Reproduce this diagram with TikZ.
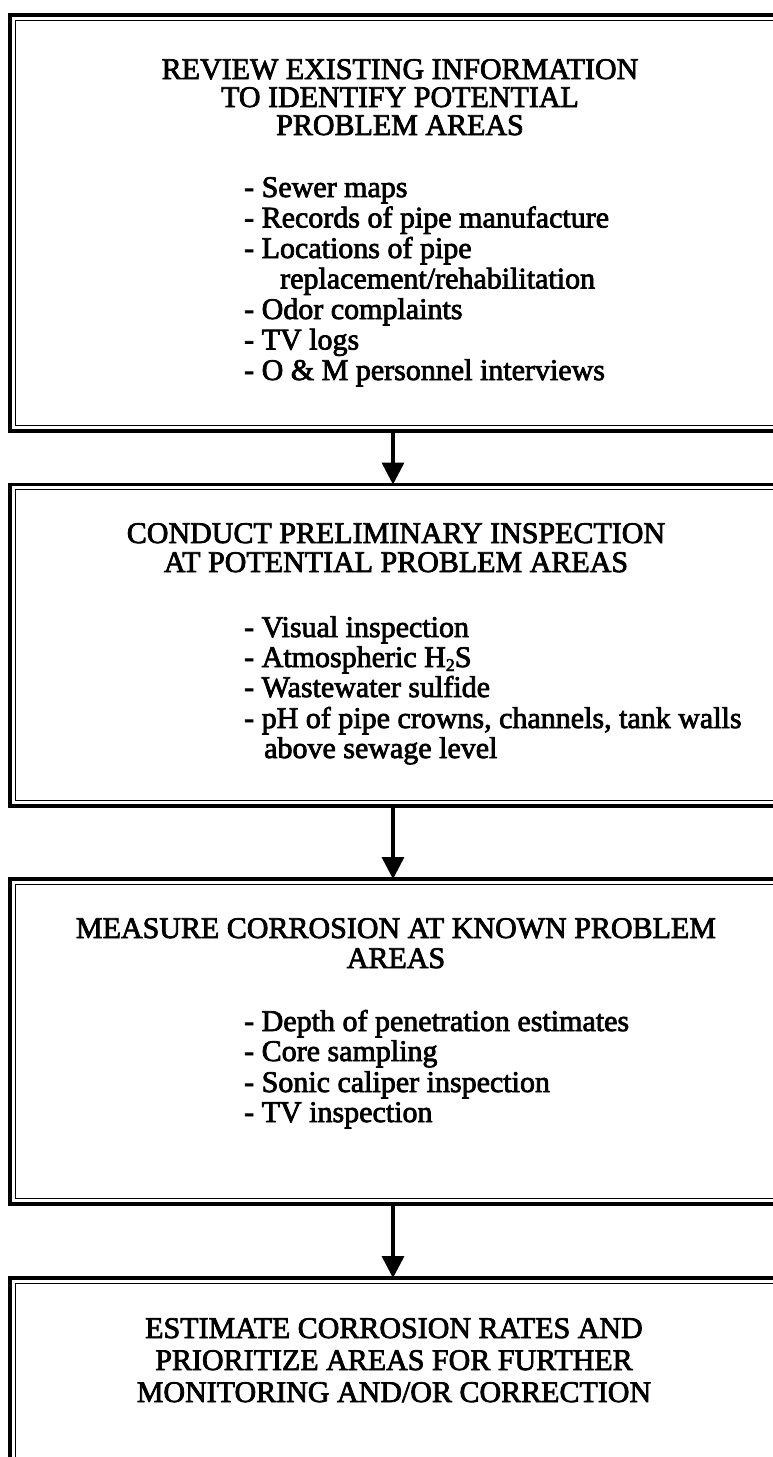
\documentclass[tikz,border=0pt]{standalone}
\usepackage{fontspec}
\setmainfont{Liberation Serif}[FakeBold=2.5]
\usetikzlibrary{arrows.meta}
\tikzset{
  boxframe/.style={draw, line width=3.8pt, outer sep=0pt, inner sep=0pt},
  innerframe/.style={draw, line width=1.2pt},
  ttl/.style={anchor=base, inner sep=0pt, font=\fontsize{30}{30}\selectfont},
  itm/.style={anchor=base west, inner sep=0pt, font=\fontsize{30}{30}\selectfont},
  flow/.style={line width=3.5pt, -{Triangle[length=22pt,width=22pt]}}
}
\newcommand{\lowtwo}{\raisebox{-4pt}{\fontsize{18}{18}\selectfont 2}}
\begin{document}
\begin{tikzpicture}[x=1pt,y=-1pt]
\useasboundingbox (0,0) rectangle (773,1457);
\clip (0,0) rectangle (773,1457);
% boxes
\node[boxframe, minimum width=775pt, minimum height=416pt] (b1) at (397.5,223) {};
\node[boxframe, minimum width=775pt, minimum height=321.5pt] (b2) at (397.5,645.25) {};
\node[boxframe, minimum width=775pt, minimum height=325pt] (b3) at (397.5,1041.5) {};
\node[boxframe, minimum width=775pt, minimum height=202pt] (b4) at (397.5,1379) {};
\foreach \b in {b1,b2,b3,b4}{
  \draw[innerframe] ([shift={(5.2,5.2)}]\b.north west) rectangle ([shift={(-5.2,-5.2)}]\b.south east);
}
% arrows
\coordinate (ax) at (393,0);
\draw[flow] (ax |- b1.south) -- (ax |- b2.north);
\draw[flow] (ax |- b2.south) -- (ax |- b3.north);
\draw[flow] (ax |- b3.south) -- (ax |- b4.north);
% box 1
\node[ttl] (t1a) at (400,79) {REVIEW EXISTING INFORMATION};
\node[ttl] (t1b) at (400,107) {TO IDENTIFY POTENTIAL};
\node[ttl] (t1c) at (400,135) {PROBLEM AREAS};
\node[itm] (i1a) at (244,197) {- Sewer maps};
\node[itm] (i1b) at (244,227.5) {- Records of pipe manufacture};
\node[itm] (i1c) at (244,258) {- Locations of pipe};
\node[itm] (i1d) at (280,288.5) {replacement/rehabilitation};
\node[itm] (i1e) at (244,319) {- Odor complaints};
\node[itm] (i1f) at (244,349.5) {- TV logs};
\node[itm] (i1g) at (244,380) {- O \& M personnel interviews};
% box 2
\node[ttl] (t2a) at (396,543) {CONDUCT PRELIMINARY INSPECTION};
\node[ttl] (t2b) at (396,572) {AT POTENTIAL PROBLEM AREAS};
\node[itm] (i2a) at (244,637) {- Visual inspection};
\node[itm] (i2b) at (244,667) {- Atmospheric H\lowtwo S};
\node[itm] (i2c) at (244,697) {- Wastewater sulfide};
\node[itm] (i2d) at (244,728) {- pH of pipe crowns, channels, tank walls};
\node[itm] (i2e) at (264,758) {above sewage level};
% box 3
\node[ttl] (t3a) at (396,938) {MEASURE CORROSION AT KNOWN PROBLEM};
\node[ttl] (t3b) at (396,968) {AREAS};
\node[itm] (i3a) at (244,1031) {- Depth of penetration estimates};
\node[itm] (i3b) at (244,1061) {- Core sampling};
\node[itm] (i3c) at (244,1092) {- Sonic caliper inspection};
\node[itm] (i3d) at (244,1122) {- TV inspection};
% box 4
\node[ttl] (t4a) at (394,1338) {ESTIMATE CORROSION RATES AND};
\node[ttl] (t4b) at (394,1370) {PRIORITIZE AREAS FOR FURTHER};
\node[ttl] (t4c) at (394,1402) {MONITORING AND/OR CORRECTION};
\end{tikzpicture}
\end{document}
